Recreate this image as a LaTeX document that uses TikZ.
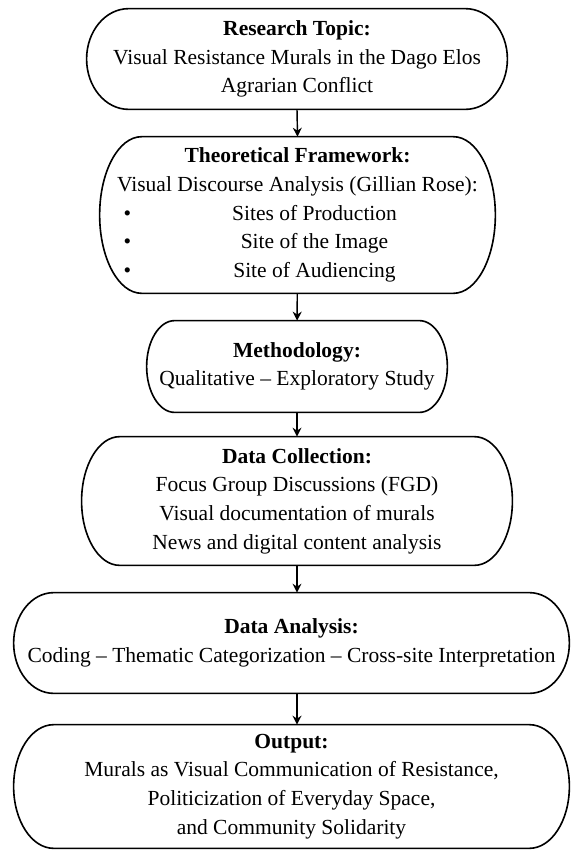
\documentclass[tikz,border=0pt]{standalone}
\usepackage{fontspec}
\setmainfont{Liberation Serif}
\usetikzlibrary{arrows.meta,calc}

% outline with elliptic ends round a named node
\newcommand{\pillaround}[2]{%
  \draw[line width=0.9pt] let \p1=(#1.north west), \p2=(#1.south east), \n1={(\y1-\y2)/2} in
    (\x1+#2,\y1) -- (\x2-#2,\y1) arc[start angle=90, end angle=-90, x radius=#2, y radius={\n1*1pt}]
    -- (\x1+#2,\y2) arc[start angle=270, end angle=90, x radius=#2, y radius={\n1*1pt}] -- cycle;}
\newcommand{\siteitem}[1]{\makebox[194pt][l]{\textbullet}\kern-194pt\makebox[194pt]{\hspace*{19pt}#1}}

\begin{document}
\begin{tikzpicture}[x=0.558pt, y=-0.558pt,
  stage/.style={rectangle, align=center, inner sep=0pt, font=\fontsize{12}{16}\selectfont},
  flow/.style={-{Stealth[length=5pt,width=5pt]}, line width=0.8pt}]
\path[use as bounding box] (0,0) rectangle (571,850);

\node[stage, minimum width=234.4pt, minimum height=55.8pt] (topic) at (297,59)
  {\textbf{Research Topic:}\\ Visual Resistance Murals in the Dago Elos\\ Agrarian Conflict};
\node[stage, minimum width=220.4pt, minimum height=87pt] (theory) at (297.5,215)
  {\textbf{Theoretical Framework:}\\ Visual Discourse Analysis (Gillian Rose):\\
   \siteitem{Sites of Production}\\ \siteitem{Site of the Image}\\ \siteitem{Site of Audiencing}};
\node[stage, minimum width=167.4pt, minimum height=50.8pt] (method) at (297,366.5)
  {\textbf{Methodology:}\\ Qualitative -- Exploratory Study};
\node[stage, minimum width=240pt, minimum height=71.4pt] (collect) at (297,501)
  {\textbf{Data Collection:}\\ Focus Group Discussions (FGD)\\ Visual documentation of murals\\ News and digital content analysis};
\node[stage, minimum width=309.7pt, minimum height=55.8pt] (analysis) at (291.5,643)
  {\textbf{Data Analysis:}\\ Coding -- Thematic Categorization -- Cross-site Interpretation};
\node[stage, minimum width=309.7pt, minimum height=68.6pt] (output) at (291.5,786.5)
  {\textbf{Output:}\\ Murals as Visual Communication of Resistance,\\ Politicization of Everyday Space,\\ and Community Solidarity};

\pillaround{topic}{23.4pt}
\pillaround{theory}{23.4pt}
\pillaround{method}{15.6pt}
\pillaround{collect}{21.2pt}
\pillaround{analysis}{22.3pt}
\pillaround{output}{22.3pt}

\draw[flow] (topic.south) -- (theory.north);
\draw[flow] (theory) -- (method);
\draw[flow] (method) -- (collect);
\draw[flow] (collect.south) -- (collect.south |- analysis.north);
\draw[flow] (collect.south |- analysis.south) -- (collect.south |- output.north);
\end{tikzpicture}
\end{document}
